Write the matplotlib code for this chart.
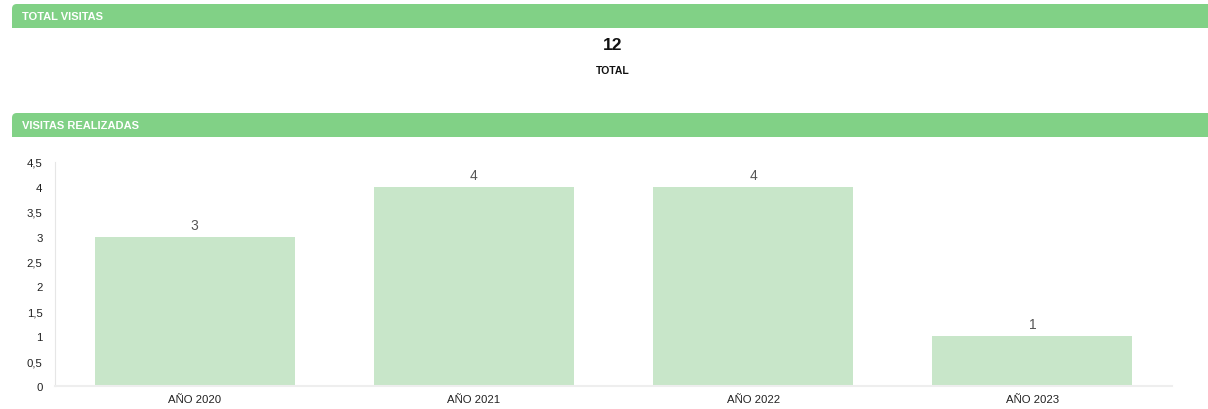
import matplotlib.pyplot as plt
from matplotlib.patches import Rectangle, FancyBboxPatch

plt.rcParams["font.family"] = ["Liberation Sans", "DejaVu Sans"]

years = ["AÑO 2020", "AÑO 2021", "AÑO 2022", "AÑO 2023"]
visitas = [3, 4, 4, 1]
total = 12
yticks = [0, 0.5, 1, 1.5, 2, 2.5, 3, 3.5, 4, 4.5]
ytick_labels = ["0", "0,5", "1", "1,5", "2", "2,5", "3", "3,5", "4", "4,5"]

W, H = 1208, 410
header_green = "#81d186"
bar_green = "#c8e6c9"

fig = plt.figure(figsize=(W / 100, H / 100), dpi=100)


def header(y_top, text):
    # rounded top-left corner, square elsewhere
    y0 = 1 - (y_top + 24) / H
    h = 24 / H
    fig.add_artist(FancyBboxPatch((12 / W, y0), 1.2, h, boxstyle="round,pad=0,rounding_size=0.004",
                                  transform=fig.transFigure, facecolor=header_green,
                                  edgecolor="none", mutation_aspect=W / H))
    fig.add_artist(Rectangle((12 / W, y0), 20 / W, h / 2, transform=fig.transFigure,
                             facecolor=header_green, edgecolor="none"))
    fig.add_artist(Rectangle((1180 / W, y0), 40 / W, h, transform=fig.transFigure,
                             facecolor=header_green, edgecolor="none"))
    fig.text(22 / W, y0 + h / 2, text, color="white", fontsize=8, fontweight="bold",
             va="center", ha="left")


header(5, "TOTAL VISITAS")
header(114, "VISITAS REALIZADAS")

fig.text(613 / W, 1 - 46 / H, str(total), fontsize=12.5, fontweight="bold",
         ha="center", va="center", color="#111111")
fig.text(613 / W, 1 - 71 / H, "TOTAL", fontsize=7.5, fontweight="bold",
         ha="center", va="center", color="#111111")

ax = fig.add_axes([55 / W, 23 / H, 1117 / W, 224 / H])
x = range(len(years))
bars = ax.bar(x, visitas, width=0.717, color=bar_green, edgecolor="none")
for xi, v in zip(x, visitas):
    ax.text(xi, v + 0.1, str(v), ha="center", va="bottom", fontsize=10, color="#555555")

ax.set_xlim(-0.5, len(years) - 0.5)
ax.set_ylim(0, 4.5)
ax.set_yticks(yticks)
ax.set_yticklabels(ytick_labels)
ax.set_xticks(list(x))
ax.set_xticklabels(years)
ax.tick_params(axis="both", length=0, labelsize=8.2, colors="#222222")
ax.tick_params(axis="y", pad=9)
ax.tick_params(axis="x", pad=6)
for s in ["top", "right"]:
    ax.spines[s].set_visible(False)
ax.spines["left"].set_color("#e6e6e6")
ax.spines["bottom"].set_color("#eeeeee")
ax.spines["bottom"].set_linewidth(1.5)

fig.savefig("out.png", dpi=100)
